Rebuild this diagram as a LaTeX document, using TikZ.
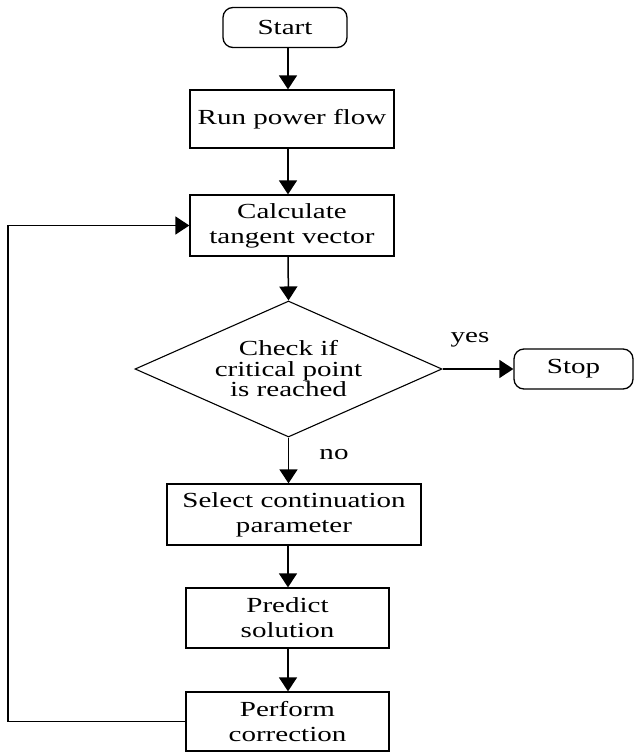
\documentclass[tikz,border=0pt]{standalone}
\usepackage{fontspec}
\setmainfont{Liberation Serif}[FakeStretch=1.35]
\usetikzlibrary{shapes.geometric,arrows.meta}
\begin{document}
\begin{tikzpicture}[x=1pt,y=-1pt,
  every node/.style={font=\fontsize{21.5}{25}\selectfont, align=center, inner sep=0pt},
  boxstyle/.style={draw, line width=1.3pt, minimum width=#1},
  term/.style={draw, line width=1.3pt, rounded corners=10pt, minimum height=40pt},
  arr/.style={line width=1.5pt, -{Triangle[length=14pt,width=18pt]}}]
\useasboundingbox (0,0) rectangle (634,752);
\fill[white] (0,0) rectangle (634,752);
\coordinate (ax) at (288,0);
\node[term, minimum width=124pt] (start) at (285,27.5) {Start};
\node[boxstyle=204pt, minimum height=58pt] (run) at (292,119) {Run power flow};
\node[boxstyle=204pt, minimum height=61pt] (calc) at (292,225.5) {Calculate\\tangent vector};
\node[draw, line width=1.1pt, diamond, shape aspect=2.26, minimum width=307pt, minimum height=136pt, font=\fontsize{21.5}{20.5}\selectfont] (dec) at (288.5,369) {Check if\\critical point\\is reached};
\node[term, minimum width=119pt] (stop) at (573.5,369) {Stop};
\node[boxstyle=254pt, minimum height=61pt] (select) at (294,514.5) {Select continuation\\parameter};
\node[boxstyle=203pt, minimum height=60pt] (predict) at (287.5,618) {Predict\\solution};
\node[boxstyle=203pt, minimum height=59pt] (perform) at (287.5,721.5) {Perform\\correction};
\node (yes) at (470,340) {yes};
\node (no) at (334,455) {no};
\coordinate (lc) at (8,721.5);
\draw[arr] (start.south -| ax) -- (run.north -| ax);
\draw[arr] (run.south -| ax) -- (calc.north -| ax);
\draw[arr] (calc.south -| ax) -- (dec.north);
\draw[arr] (dec.east) -- (stop.west);
\draw[arr] (dec.south) -- (select.north -| dec.south);
\draw[arr] (select.south -| ax) -- (predict.north -| ax);
\draw[arr] (predict.south -| ax) -- (perform.north -| ax);
\draw[arr] (perform.west) -- (lc) |- (calc.west);
\end{tikzpicture}
\end{document}
